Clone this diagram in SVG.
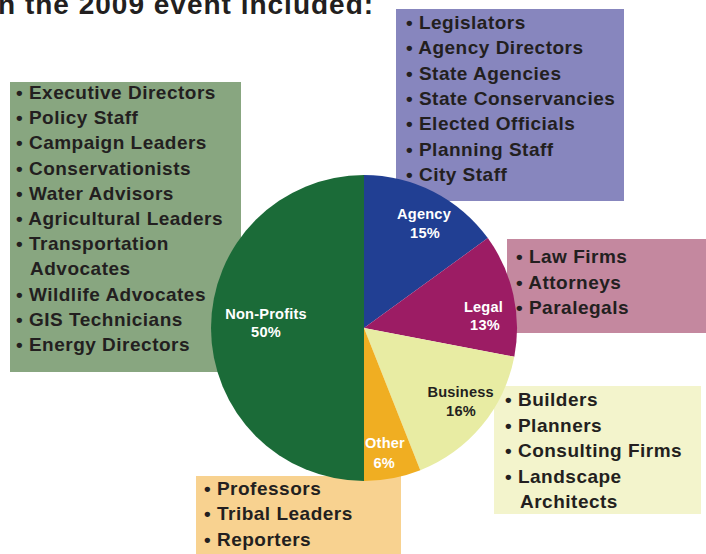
<svg xmlns="http://www.w3.org/2000/svg" width="706" height="554" viewBox="0 0 706 554">
<style>
.t{font-family:"Liberation Sans",Arial,sans-serif;font-weight:bold;font-size:19px;letter-spacing:0.5px;fill:#231f20}
.lab{font-family:"Liberation Sans",Arial,sans-serif;font-weight:bold;font-size:14.6px;letter-spacing:0.2px;fill:#ffffff;text-anchor:middle}
.dark{fill:#231f20}
.title{font-family:"Liberation Sans",Arial,sans-serif;font-weight:bold;font-size:28px;letter-spacing:1px;fill:#231f20}
</style>
<rect width="706" height="554" fill="#ffffff"/>
<text class="title" x="-2" y="13.5">n the 2009 event included:</text>

<g id="box-nonprofits">
<rect x="10" y="82" width="231" height="290" fill="#88a680"/>
<text class="t" x="16" y="99">• Executive Directors</text>
<text class="t" x="16" y="124.2">• Policy Staff</text>
<text class="t" x="16" y="149.4">• Campaign Leaders</text>
<text class="t" x="16" y="174.6">• Conservationists</text>
<text class="t" x="16" y="199.8">• Water Advisors</text>
<text class="t" x="16" y="225">• Agricultural Leaders</text>
<text class="t" x="16" y="250.2">• Transportation</text>
<text class="t" x="30" y="275.4">Advocates</text>
<text class="t" x="16" y="300.6">• Wildlife Advocates</text>
<text class="t" x="16" y="325.8">• GIS Technicians</text>
<text class="t" x="16" y="351">• Energy Directors</text>
</g>

<g id="box-agency">
<rect x="396" y="9" width="228" height="192" fill="#8786be"/>
<text class="t" x="406" y="28.7">• Legislators</text>
<text class="t" x="406" y="54.1">• Agency Directors</text>
<text class="t" x="406" y="79.5">• State Agencies</text>
<text class="t" x="406" y="104.9">• State Conservancies</text>
<text class="t" x="406" y="130.3">• Elected Officials</text>
<text class="t" x="406" y="155.7">• Planning Staff</text>
<text class="t" x="406" y="181.1">• City Staff</text>
</g>

<g id="box-legal">
<rect x="507" y="239" width="199" height="94" fill="#c4889f"/>
<text class="t" x="516" y="263.3">• Law Firms</text>
<text class="t" x="516" y="288.6">• Attorneys</text>
<text class="t" x="516" y="314">• Paralegals</text>
</g>

<g id="box-business">
<rect x="494" y="386" width="207" height="128" fill="#f3f4cc"/>
<text class="t" x="505" y="406">• Builders</text>
<text class="t" x="505" y="431.5">• Planners</text>
<text class="t" x="505" y="457">• Consulting Firms</text>
<text class="t" x="505" y="482.5">• Landscape</text>
<text class="t" x="520" y="508">Architects</text>
</g>

<g id="box-other">
<rect x="196" y="476" width="205" height="78" fill="#f8d290"/>
<text class="t" x="204" y="495">• Professors</text>
<text class="t" x="204" y="520.3">• Tribal Leaders</text>
<text class="t" x="204" y="545.6">• Reporters</text>
</g>

<g id="pie">
<g id="slice-nonprofits">
<path d="M364,328 L364,481 A153,153 0 0 1 364,175 Z" fill="#1b6b38"/>
<text class="lab" x="266" y="319">Non-Profits</text>
<text class="lab" x="266" y="337.3">50%</text>
</g>
<g id="slice-agency">
<path d="M364,328 L364,175 A153,153 0 0 1 487.8,238.1 Z" fill="#213f93"/>
<text class="lab" x="424" y="219.3">Agency</text>
<text class="lab" x="425" y="237.7">15%</text>
</g>
<g id="slice-legal">
<path d="M364,328 L487.8,238.1 A153,153 0 0 1 514.3,356.7 Z" fill="#9c1c64"/>
<text class="lab" x="483.5" y="311.7">Legal</text>
<text class="lab" x="485" y="330">13%</text>
</g>
<g id="slice-business">
<path d="M364,328 L514.3,356.7 A153,153 0 0 1 420.3,470.3 Z" fill="#e8eca3"/>
<text class="lab dark" x="460.7" y="396.7">Business</text>
<text class="lab dark" x="461" y="416">16%</text>
</g>
<g id="slice-other">
<path d="M364,328 L420.3,470.3 A153,153 0 0 1 364,481 Z" fill="#f0ae22"/>
<text class="lab" x="385" y="448.3">Other</text>
<text class="lab" x="384.3" y="467.7">6%</text>
</g>
</g>
<g id="connectors"/>
</svg>
